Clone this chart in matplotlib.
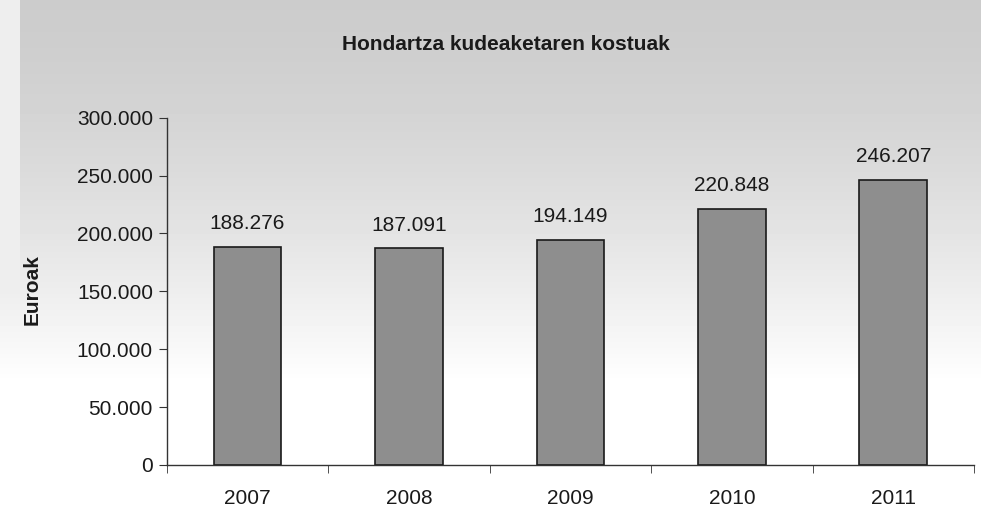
import numpy as np
import matplotlib
matplotlib.use('Agg')
import matplotlib.pyplot as plt

years = ['2007', '2008', '2009', '2010', '2011']
costs = [188276, 187091, 194149, 220848, 246207]
yticks = [0, 50000, 100000, 150000, 200000, 250000, 300000]


def fmt(v):
    return f'{v:,}'.replace(',', '.')


plt.rcParams['font.family'] = 'Liberation Sans'
fig = plt.figure(figsize=(9.81, 5.12), dpi=100)

# scanned grey background, darker at top, fading to white
bg = fig.add_axes([0, 0, 1, 1], zorder=-1)
rows = np.linspace(0, 1, 256)
col = np.clip(0.80 + 0.20 * (rows / 0.75) ** 1.5, 0, 1)
img = np.tile(col[:, None], (1, 200))
img[:, :4] = np.maximum(img[:, :4], 0.93)
bg.imshow(img, cmap='gray', vmin=0, vmax=1, aspect='auto', extent=[0, 1, 0, 1], origin='upper')
bg.axis('off')

ax = fig.add_axes([0.170, 0.092, 0.823, 0.678])
ax.patch.set_alpha(0)
x = np.arange(len(years))
ax.bar(x, costs, width=0.42, color='#8e8e8e', edgecolor='#1a1a1a', linewidth=1.2)
for xi, v in zip(x, costs):
    ax.text(xi, v + 12000, fmt(v), ha='center', va='bottom', fontsize=15, color='#1a1a1a')

ax.set_xlim(-0.5, len(years) - 0.5)
ax.set_ylim(0, 300000)
ax.set_yticks(yticks)
ax.set_yticklabels([fmt(v) for v in yticks], fontsize=15, color='#1a1a1a')
ax.set_xticks(x)
ax.set_xticklabels(years, fontsize=15, color='#1a1a1a')
ax.tick_params(axis='x', length=0, pad=17)
ax.set_xticks(np.arange(len(years) + 1) - 0.5, minor=True)
ax.tick_params(axis='x', which='minor', length=6, color='#333333', direction='out')
ax.tick_params(axis='y', length=6, color='#333333', direction='out', pad=4)
for s in ['top', 'right']:
    ax.spines[s].set_visible(False)
for s in ['left', 'bottom']:
    ax.spines[s].set_color('#333333')
    ax.spines[s].set_linewidth(1)

fig.text(0.033, 0.435, 'Euroak', rotation=90, ha='center', va='center',
         fontsize=15, fontweight='bold', color='#1a1a1a')
fig.text(0.516, 0.913, 'Hondartza kudeaketaren kostuak', ha='center', va='center',
         fontsize=15, fontweight='bold', color='#1a1a1a')

fig.savefig('out.png', dpi=100)
